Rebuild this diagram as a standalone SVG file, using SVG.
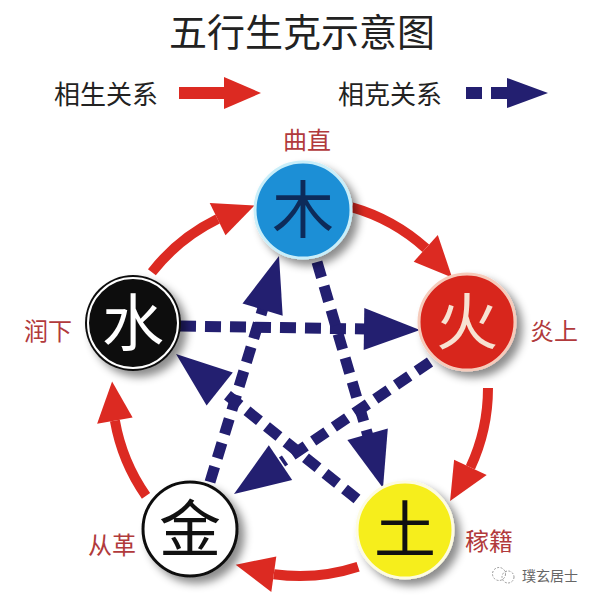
<svg xmlns="http://www.w3.org/2000/svg" width="596" height="600" viewBox="0 0 596 600">
<defs>
<filter id="sh" x="-30%" y="-30%" width="170%" height="170%">
<feDropShadow dx="6" dy="6" stdDeviation="4" flood-color="#000" flood-opacity="0.45"/>
</filter>
<style>
.t{font-family:"Noto Sans CJK SC","Noto Sans",sans-serif}
.title{font-size:38px;fill:#222}
.leg{font-size:26px;fill:#222}
.lab{font-size:24px;fill:#b13a3c}
.ch{font-size:62px;text-anchor:middle}
.sheng{fill:none;stroke:#dc2a22;stroke-width:10}
.sheng-h{fill:#dc2a22}
.ke{fill:none;stroke:#231f70;stroke-width:11;stroke-dasharray:16 9}
.ke-h{fill:#231f70}
</style>
</defs>
<rect width="596" height="600" fill="#fff"/>
<text class="t title" x="302" y="46" text-anchor="middle">五行生克示意图</text>
<g id="legend">
<text class="t leg" x="54" y="104">相生关系</text>
<rect x="179" y="87" width="47" height="12" fill="#dc2a22"/>
<polygon points="224,77 261,93 224,109" fill="#dc2a22"/>
<text class="t leg" x="338" y="104">相克关系</text>
<rect x="466" y="87" width="16" height="12" fill="#231f70"/>
<rect x="491" y="87" width="18" height="12" fill="#231f70"/>
<polygon points="507,78 548,93 507,108" fill="#231f70"/>
</g>
<g id="connectors">
<path class="sheng" d="M351.8,207.3 A188,188 0 0 1 425.8,248.3"/>
<polygon class="sheng-h" points="413.7,261.7 437.8,234.9 452.1,277.5"/>
<path class="sheng" d="M488,388 A188,188 0 0 1 470.4,467.4"/>
<polygon class="sheng-h" points="454.1,459.8 486.7,475.1 450.1,501.1"/>
<path class="sheng" d="M358.1,566.8 A188,188 0 0 1 273.8,574.2"/>
<polygon class="sheng-h" points="276.3,556.4 271.3,592 235.7,564.7"/>
<path class="sheng" d="M146,495.8 A188,188 0 0 1 114.9,420.6"/>
<polygon class="sheng-h" points="132.6,417.5 97.1,423.8 112.1,381.4"/>
<path class="sheng" d="M151.9,272.3 A188,188 0 0 1 217.6,219"/>
<polygon class="sheng-h" points="225.5,235.2 209.7,202.9 254.5,205.6"/>
<line class="ke" x1="180" y1="326" x2="366" y2="329"/>
<polygon class="ke-h" points="363.7,350.1 364.3,308.1 420,330"/>
<line class="ke" x1="317" y1="262" x2="368" y2="436"/>
<polygon class="ke-h" points="347.4,440 387.8,428.4 383,488"/>
<line class="ke" x1="210" y1="482" x2="263" y2="308"/>
<polygon class="ke-h" points="282.7,315.7 242.5,303.5 279,256"/>
<line class="ke" x1="430" y1="362" x2="282" y2="462"/>
<polygon class="ke-h" points="268.8,445.3 292.2,480.1 234,494"/>
<line class="ke" x1="357" y1="499" x2="221" y2="390"/>
<polygon class="ke-h" points="232.8,372.6 206.6,405.4 176,354"/>
</g>
<g id="wood">
<circle cx="303" cy="210" r="48" fill="#1f8fd6" stroke="#c9eef9" stroke-width="3" filter="url(#sh)"/>
<text class="t ch" x="303" y="233" fill="#0d2b5a">木</text>
<text class="t lab" x="307" y="149" text-anchor="middle">曲直</text>
</g>
<g id="fire">
<circle cx="467" cy="322" r="48" fill="#d8251f" stroke="#f6cbbb" stroke-width="3" filter="url(#sh)"/>
<text class="t ch" x="467" y="345" fill="#f7e2d2">火</text>
<text class="t lab" x="530" y="340">炎上</text>
</g>
<g id="water">
<circle cx="133" cy="323" r="48" fill="#111" filter="url(#sh)"/>
<circle cx="133" cy="323" r="45" fill="none" stroke="#fff" stroke-width="2"/>
<text class="t ch" x="133" y="346" fill="#fff">水</text>
<text class="t lab" x="72" y="340" text-anchor="end">润下</text>
</g>
<g id="metal">
<circle cx="190" cy="529" r="47" fill="#fff" stroke="#111" stroke-width="3" filter="url(#sh)"/>
<text class="t ch" x="190" y="552" fill="#111">金</text>
<text class="t lab" x="136" y="554" text-anchor="end">从革</text>
</g>
<g id="earth">
<circle cx="405" cy="530" r="48" fill="#f6ee1e" stroke="#fdfbe0" stroke-width="3" filter="url(#sh)"/>
<text class="t ch" x="405" y="553" fill="#111">土</text>
<text class="t lab" x="465" y="550">稼籍</text>
</g>
<g id="watermark">
<circle cx="499" cy="574" r="6.5" fill="none" stroke="#999" stroke-width="1" stroke-dasharray="2 1.5"/>
<circle cx="508" cy="577" r="6" fill="none" stroke="#999" stroke-width="1" stroke-dasharray="2 1.5"/>
<text class="t" x="522" y="581" font-size="14" fill="#666">璞玄居士</text>
</g>
</svg>
